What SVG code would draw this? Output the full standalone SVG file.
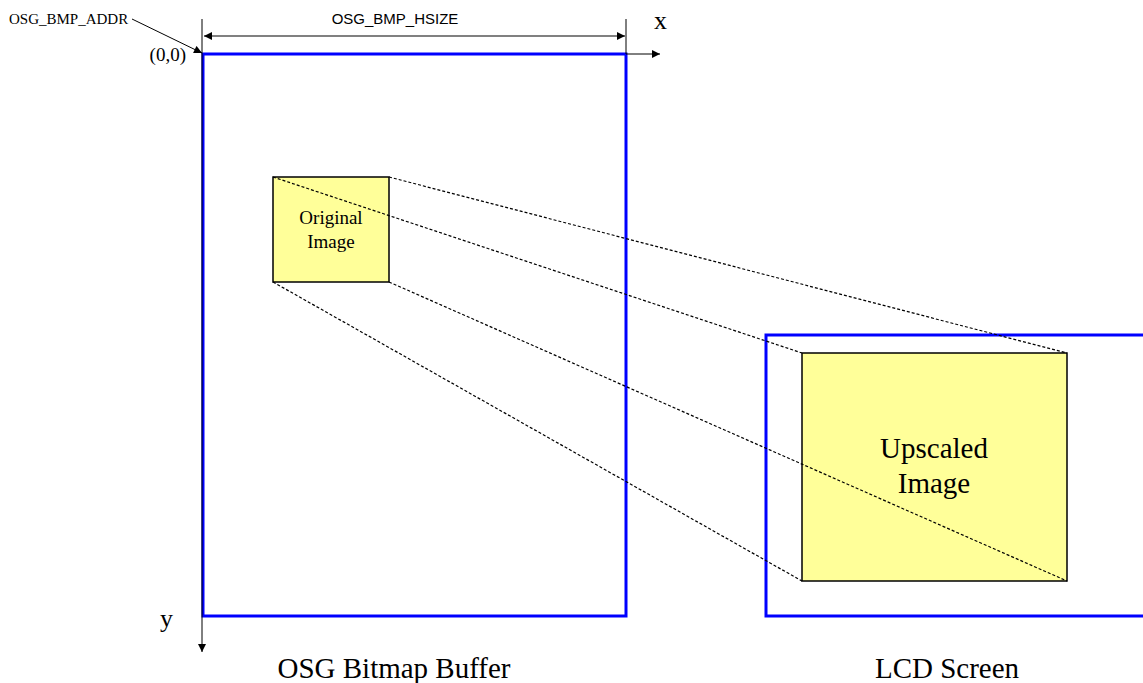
<svg xmlns="http://www.w3.org/2000/svg" width="1143" height="683" viewBox="0 0 1143 683">
<style>
.serif{font-family:"Liberation Serif","Times New Roman",serif;fill:#000}
.sans{font-family:"Liberation Sans",Arial,sans-serif;fill:#000}
.blue{fill:none;stroke:#0000ff;stroke-width:3}
.img{fill:#ffff99;stroke:#000;stroke-width:1.5}
.dash{fill:none;stroke:#000;stroke-width:1.2;stroke-dasharray:3,2}
.thin{fill:none;stroke:#000;stroke-width:1}
.gray{fill:none;stroke:#808080;stroke-width:2}
</style>
<defs>
<marker id="ah" viewBox="0 0 10 10" refX="10" refY="5" markerWidth="10" markerHeight="8" markerUnits="userSpaceOnUse" orient="auto-start-reverse">
<path d="M0,0 L10,5 L0,10 z" fill="#000"/>
</marker>
</defs>
<rect width="1143" height="683" fill="#fff"/>
<g id="bitmap-buffer">
<rect class="blue" x="203" y="54" width="423" height="562"/>
<text class="serif" x="394" y="678" font-size="29" text-anchor="middle">OSG Bitmap Buffer</text>
</g>
<g id="lcd-screen">
<path class="blue" d="M1145,335 L766,335 L766,616 L1145,616"/>
<text class="serif" x="947" y="678" font-size="29" text-anchor="middle">LCD Screen</text>
</g>
<g id="axes">
<line class="thin" x1="202" y1="19" x2="202" y2="652" marker-end="url(#ah)"/>
<line class="thin" x1="626" y1="54" x2="660" y2="54" marker-end="url(#ah)"/>
<line class="thin" x1="626" y1="19" x2="626" y2="54"/>
<text class="serif" x="654" y="29" font-size="26">x</text>
<text class="serif" x="160" y="627" font-size="26">y</text>
<text class="serif" x="186" y="61" font-size="19" text-anchor="end">(0,0)</text>
</g>
<g id="hsize">
<line class="gray" x1="204" y1="36" x2="625" y2="36" marker-start="url(#ah)" marker-end="url(#ah)"/>
<text class="sans" x="395" y="24" font-size="15" text-anchor="middle">OSG_BMP_HSIZE</text>
</g>
<g id="addr">
<text class="serif" x="9" y="24" font-size="15">OSG_BMP_ADDR</text>
<line class="thin" x1="132" y1="19" x2="202" y2="53" marker-end="url(#ah)"/>
</g>
<g id="original-image">
<rect class="img" x="273" y="177" width="116" height="105"/>
<text class="serif" x="331" y="224" font-size="19" text-anchor="middle">Original</text>
<text class="serif" x="331" y="248" font-size="19" text-anchor="middle">Image</text>
</g>
<g id="upscaled-image">
<rect class="img" x="802" y="353" width="265" height="228"/>
<text class="serif" x="934" y="458" font-size="29" text-anchor="middle">Upscaled</text>
<text class="serif" x="934" y="493" font-size="29" text-anchor="middle">Image</text>
</g>
<g id="connectors">
<line class="dash" x1="273" y1="177" x2="802" y2="353"/>
<line class="dash" x1="389" y1="177" x2="1067" y2="353"/>
<line class="dash" x1="273" y1="282" x2="802" y2="581"/>
<line class="dash" x1="389" y1="282" x2="1067" y2="581"/>
</g>
</svg>
